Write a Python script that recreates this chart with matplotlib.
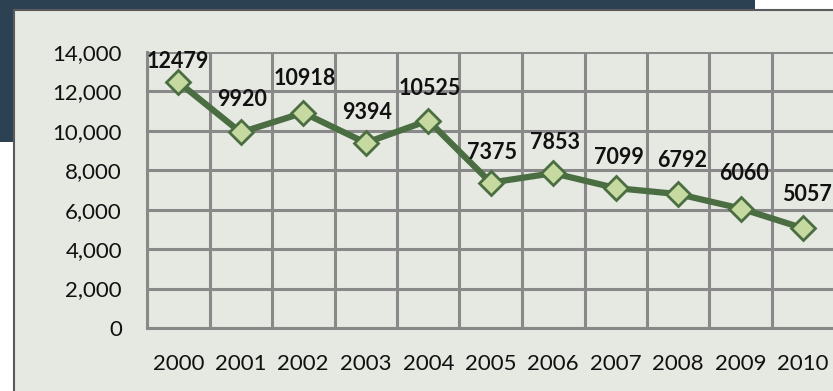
import matplotlib.pyplot as plt
from matplotlib.patches import Rectangle
from matplotlib.ticker import FuncFormatter, MultipleLocator

years = ['2000', '2001', '2002', '2003', '2004', '2005', '2006', '2007', '2008', '2009', '2010']
counts = [12479, 9920, 10918, 9394, 10525, 7375, 7853, 7099, 6792, 6060, 5057]
y_ticks = [0, 2000, 4000, 6000, 8000, 10000, 12000, 14000]

# label offsets in points (dx, dy), first one sits closer to the top edge
label_offsets = [(0, 15), (1, 24), (1, 25), (1, 22), (1, 23), (1, 22),
                 (1, 22), (2, 22), (3, 24), (2, 25), (3, 24)]

plt.rcParams['font.family'] = ['Lato', 'DejaVu Sans']

W, H = 833, 391
fig = plt.figure(figsize=(W / 100, H / 100), dpi=100, facecolor='white')

# dark banner behind the chart box
fig.add_artist(Rectangle((0, (H - 142) / H), 755 / W, 142 / H,
                         transform=fig.transFigure, facecolor='#2c4253',
                         edgecolor='none', zorder=0))
# chart box
fig.add_artist(Rectangle((14 / W, -0.05), 1.0, (H - 10) / H + 0.05,
                         transform=fig.transFigure, facecolor='#e6e8e2',
                         edgecolor='#5a5a5a', linewidth=1.5, zorder=1))

ax = fig.add_axes([147 / W, (H - 328) / H, 687.5 / W, 276 / H])
ax.set_zorder(2)
ax.set_facecolor('#e6e8e2')

x = list(range(len(years)))
ax.plot(x, counts, color='#4a6e42', linewidth=4.5, zorder=3,
        marker='D', markersize=12, markerfacecolor='#c6d9a0',
        markeredgecolor='#4a6e42', markeredgewidth=2, clip_on=False)

for i, v in enumerate(counts):
    dx, dy = label_offsets[i]
    ax.annotate(str(v), (i, v), xytext=(dx, dy), textcoords='offset points',
                ha='center', va='center', fontsize=15.5, fontweight='bold',
                color='#111111', zorder=4)

ax.set_xlim(-0.5, len(years) - 0.5)
ax.set_ylim(0, 14000)
ax.set_yticks(y_ticks)
ax.yaxis.set_major_formatter(FuncFormatter(lambda v, p: '{:,.0f}'.format(v)))
ax.set_xticks(x)
ax.set_xticklabels(years)
ax.xaxis.set_minor_locator(MultipleLocator(1, offset=0.5))

grid_col = '#898989'
ax.grid(axis='y', which='major', color=grid_col, linewidth=2.2)
ax.grid(axis='x', which='minor', color=grid_col, linewidth=2.2)
ax.set_axisbelow(True)

for side in ['top', 'right']:
    ax.spines[side].set_visible(False)
for side in ['left', 'bottom']:
    ax.spines[side].set_color(grid_col)
    ax.spines[side].set_linewidth(2.2)

ax.tick_params(axis='both', which='both', length=0)
ax.tick_params(axis='y', labelsize=16, pad=18, colors='#111111')
ax.tick_params(axis='x', labelsize=16, pad=19, colors='#111111')

fig.savefig('out.png', dpi=100, facecolor='white')
